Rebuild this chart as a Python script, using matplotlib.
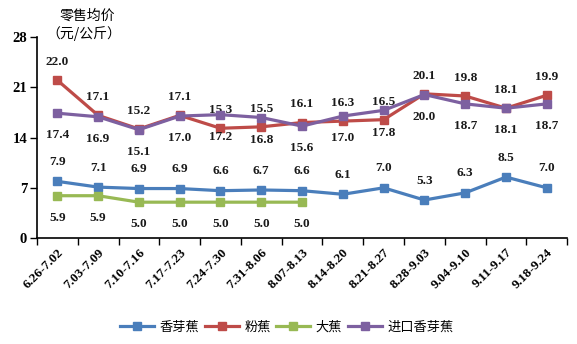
import matplotlib
matplotlib.use("Agg")
import matplotlib.pyplot as plt
from matplotlib.ticker import FixedLocator, NullFormatter

plt.rcParams['font.family'] = ['Liberation Serif', 'Noto Sans CJK SC', 'DejaVu Sans']

weeks = ["6.26-7.02", "7.03-7.09", "7.10-7.16", "7.17-7.23", "7.24-7.30", "7.31-8.06",
         "8.07-8.13", "8.14-8.20", "8.21-8.27", "8.28-9.03", "9.04-9.10", "9.11-9.17",
         "9.18-9.24"]
xiangyajiao = [7.9, 7.1, 6.9, 6.9, 6.6, 6.7, 6.6, 6.1, 7.0, 5.3, 6.3, 8.5, 7.0]
fenjiao = [22.0, 17.1, 15.2, 17.1, 15.3, 15.5, 16.1, 16.3, 16.5, 20.1, 19.8, 18.1, 19.9]
dajiao = [5.9, 5.9, 5.0, 5.0, 5.0, 5.0, 5.0]
jinkou = [17.4, 16.9, 15.1, 17.0, 17.2, 16.8, 15.6, 17.0, 17.8, 20.0, 18.7, 18.1, 18.7]
series_names = ["香芽蕉", "粉蕉", "大蕉", "进口香芽蕉"]
yticks = [0, 7, 14, 21, 28]

colors = ["#4A7EBB", "#BE4B48", "#98B954", "#7D60A0"]

fig = plt.figure(figsize=(5.77, 3.44), dpi=100)
ax = fig.add_axes([0.064, 0.308, 0.919, 0.584])

series = [xiangyajiao, fenjiao, dajiao, jinkou]
label_dy = [14, 13, -16, -16]  # label offset in points: above / below the marker

for vals, name, c, dy in zip(series, series_names, colors, label_dy):
    xs = list(range(len(vals)))
    ax.plot(xs, vals, color=c, lw=2.3, marker='s', ms=6, label=name, zorder=3)
    for x, v in zip(xs, vals):
        ax.annotate(f"{v:.1f}", (x, v), xytext=(0, dy), textcoords='offset points',
                    ha='center', va='center', fontsize=9.5, fontweight='bold',
                    family='Liberation Serif', color='#1a1a1a')

ax.set_xlim(-0.5, len(weeks) - 0.5)
ax.set_ylim(0, 28)
ax.set_yticks(yticks)
ax.set_yticklabels([str(t) for t in yticks], fontsize=10.5, fontweight='bold')

ax.xaxis.set_major_locator(FixedLocator([i - 0.5 for i in range(len(weeks) + 1)]))
ax.xaxis.set_major_formatter(NullFormatter())
ax.xaxis.set_minor_locator(FixedLocator(list(range(len(weeks)))))
ax.set_xticklabels(weeks, minor=True, rotation=45, ha='right', va='top',
                   rotation_mode='anchor', fontsize=9.5, fontweight='bold')
ax.tick_params(axis='x', which='minor', length=0, pad=6)
ax.tick_params(axis='x', which='major', length=5, width=1, direction='out')
ax.tick_params(axis='y', length=5, width=1, direction='out', pad=2)

for s in ['top', 'right']:
    ax.spines[s].set_visible(False)
for s in ['left', 'bottom']:
    ax.spines[s].set_linewidth(1.2)
    ax.spines[s].set_color('black')

fig.text(0.151, 0.955, "零售均价", ha='center', va='center', fontsize=10,
         family=['Noto Sans CJK SC'])
fig.text(0.146, 0.902, "（元/公斤）", ha='center', va='center', fontsize=10,
         family=['Noto Sans CJK SC', 'DejaVu Sans'])

leg = fig.legend(loc='center', bbox_to_anchor=(0.497, 0.05), ncol=4, frameon=False,
                 prop={'family': 'Noto Sans CJK SC', 'size': 9.5},
                 handlelength=2.6, handletextpad=0.4, columnspacing=0.4)

fig.savefig("out.png", dpi=100)
